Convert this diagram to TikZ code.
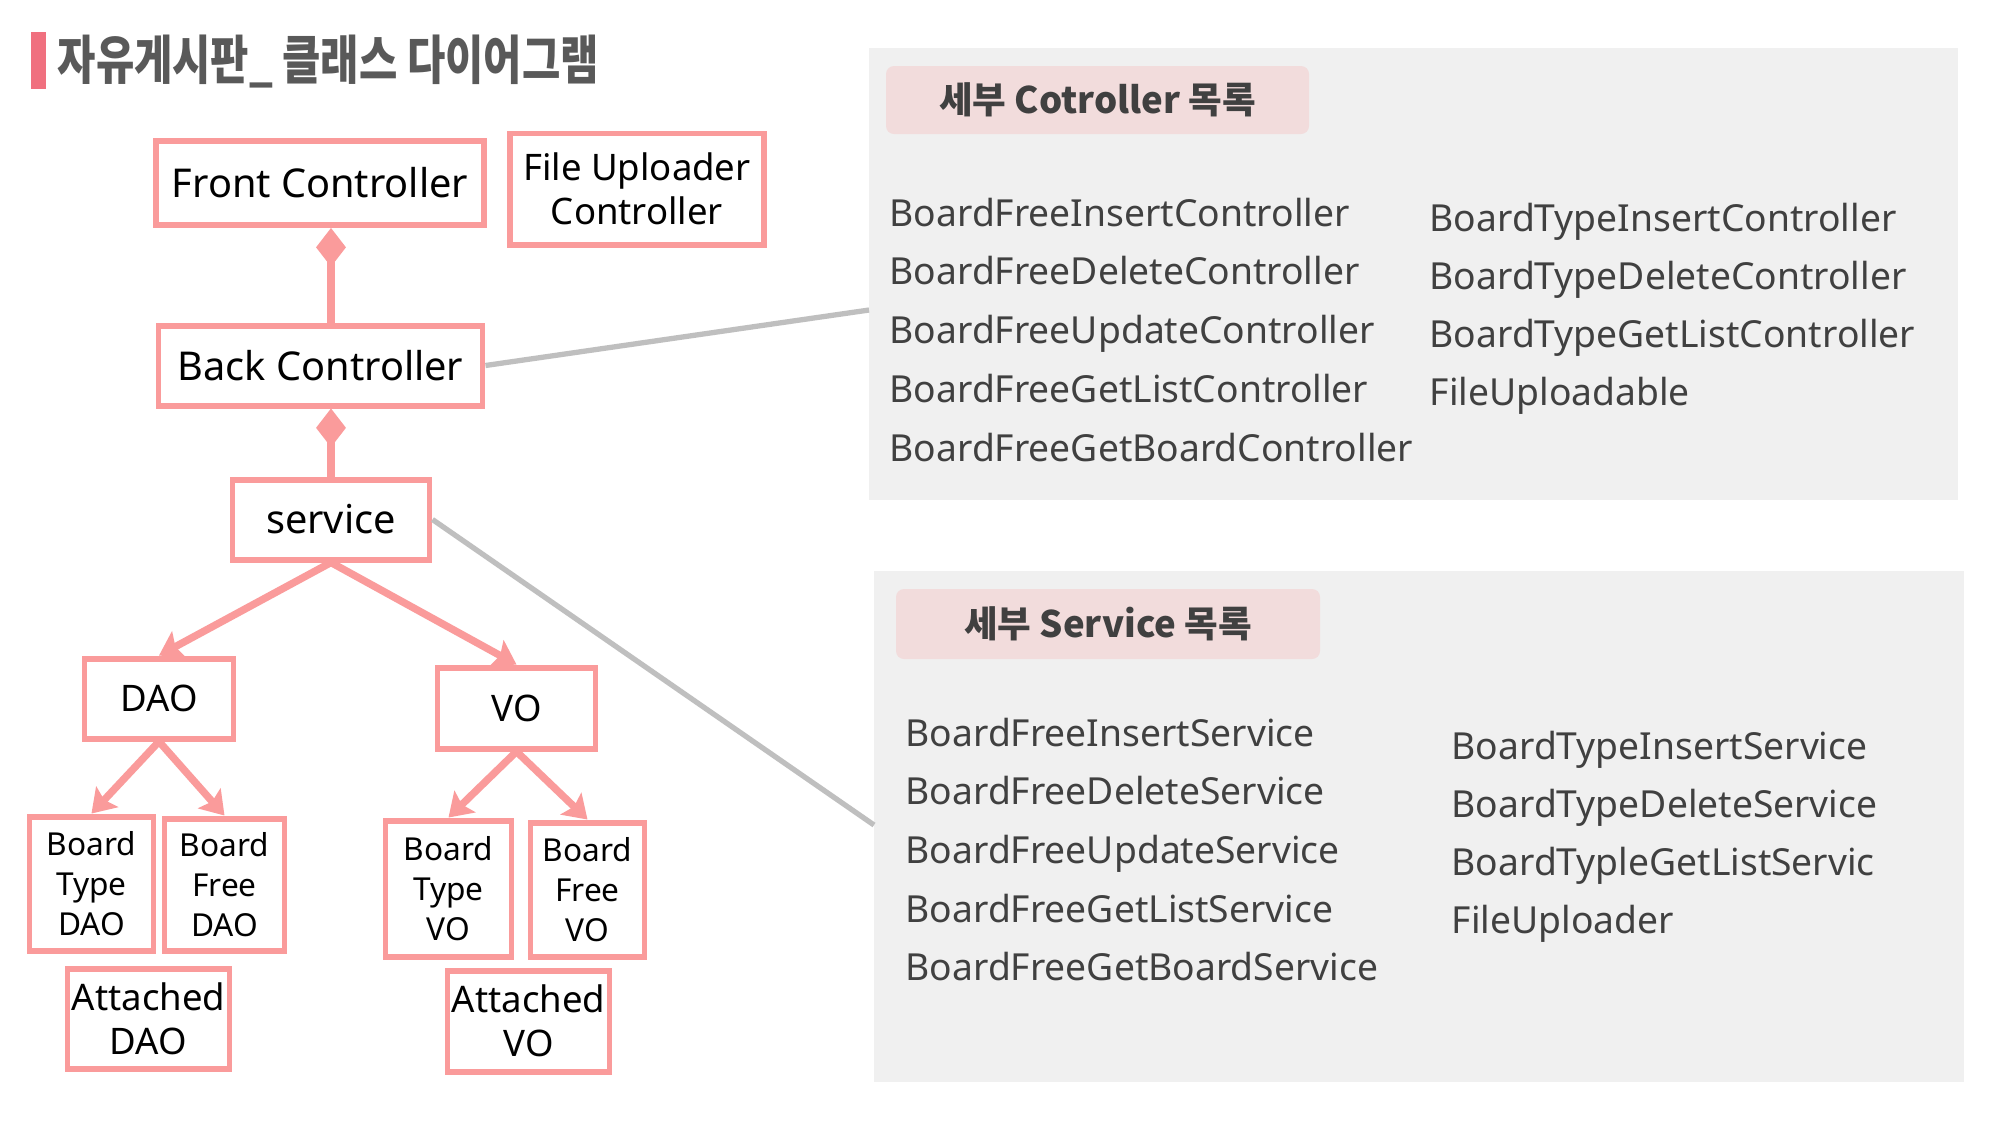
\documentclass[tikz,border=0pt]{standalone}
\usepackage{fontspec}
\setmainfont{Noto Sans}
\newfontfamily\krfont{Noto Sans CJK KR}
\newfontfamily\krtitle[FakeStretch=0.79]{Noto Sans CJK KR}
\usetikzlibrary{arrows.meta,positioning,calc}
\definecolor{boxpink}{HTML}{FA9B9B}
\definecolor{barpink}{HTML}{F0707F}
\definecolor{panelgray}{HTML}{F0F0F0}
\definecolor{headpink}{HTML}{F2DCDC}
\definecolor{linegray}{HTML}{BFBFBF}
\definecolor{txtgray}{HTML}{404040}
\definecolor{titlegray}{HTML}{595959}
\tikzset{
    >={Stealth[]},
    cls/.style={draw=boxpink,line width=1.7pt,fill=white,inner sep=0pt,align=center},
    clsbig/.style={cls,font=\fontsize{11.3}{13}\selectfont},
    clsmid/.style={cls,font=\fontsize{10.4}{12.5}\selectfont},
    clssmall/.style={cls,font=\fontsize{9}{11.4}\selectfont},
    compo/.style={draw=boxpink,line width=2.1pt,-{Diamond[length=11pt,width=8.5pt]}},
    assoc/.style={draw=boxpink,line width=2.1pt,-{Stealth[length=6.5pt,width=8.5pt,inset=1.2pt]}},
    detail/.style={draw=linegray,line width=1.5pt},
    panel/.style={fill=panelgray},
    listhead/.style={fill=headpink,rounded corners=0.8mm,inner sep=0pt,text=txtgray,
        font=\krfont\bfseries\fontsize{10.4}{12}\selectfont},
    item/.style={anchor=base west,inner sep=0pt,text=txtgray,font=\fontsize{10.6}{12}\selectfont}
}
\begin{document}
\begin{tikzpicture}
    \useasboundingbox (0,0) rectangle (20,-11.25);
    \fill[white] (0,0) rectangle (20,-11.25);

    % title
    \fill[barpink] (0.31,-0.32) rectangle (0.46,-0.89);
    \node[anchor=west,inner sep=0pt,text=titlegray,font=\krtitle\bfseries\fontsize{15}{17}\selectfont]
        (title) at (0.57,-0.62) {자유게시판\_ 클래스 다이어그램};

    % class boxes
    \node[clsbig,minimum width=3.28cm,minimum height=0.84cm] (front) at (3.20,-1.83) {Front Controller};
    \node[clsmid,minimum width=2.54cm,minimum height=1.11cm] (upl) at (6.37,-1.89) {File Uploader\\Controller};
    \node[clsbig,minimum width=3.24cm,minimum height=0.80cm] (back) at (3.205,-3.655) {Back Controller};
    \node[clsbig,minimum width=1.97cm,minimum height=0.80cm] (srv) at (3.31,-5.195) {service};
    \node[clsmid,minimum width=1.49cm,minimum height=0.80cm] (dao) at (1.59,-6.985) {DAO};
    \node[clsmid,minimum width=1.58cm,minimum height=0.81cm] (vo) at (5.165,-7.08) {VO};

    \node[clssmall,minimum width=1.24cm,minimum height=1.34cm] (tdao) at (0.915,-8.835) {Board\\Type\\DAO};
    \node[clssmall,minimum width=1.20cm,minimum height=1.32cm] (fdao) at (2.245,-8.845) {Board\\Free\\DAO};
    \node[clsmid,minimum width=1.62cm,minimum height=1.00cm] (adao) at (1.485,-10.185) {Attached\\DAO};
    \node[clssmall,minimum width=1.26cm,minimum height=1.36cm] (tvo) at (4.485,-8.885) {Board\\Type\\VO};
    \node[clssmall,minimum width=1.14cm,minimum height=1.34cm] (fvo) at (5.875,-8.895) {Board\\Free\\VO};
    \node[clsmid,minimum width=1.62cm,minimum height=1.01cm] (avo) at (5.285,-10.21) {Attached\\VO};

    % relations
    \draw[compo] (back.north -| srv) -- (front.south -| srv);
    \draw[compo] (srv.north) -- (back.south -| srv);
    \draw[assoc] (srv.south) -- (dao.north);
    \draw[assoc] (srv.south) -- (vo.north);
    \draw[assoc] (dao.south) -- (tdao.north);
    \draw[assoc] (dao.south) -- (fdao.north);
    \draw[assoc] (vo.south) -- (tvo.north);
    \draw[assoc] (vo.south) -- (fvo.north);

    % controller list
    \fill[panel] (8.69,-0.48) rectangle (19.58,-5.00);
    \coordinate (cend) at (8.69,-3.10);
    \node[listhead,minimum width=4.23cm,minimum height=0.68cm] (chead) at (10.975,-1.0) {세부 Cotroller 목록};
    \foreach \name [count=\i] in {BoardFreeInsertController,BoardFreeDeleteController,
        BoardFreeUpdateController,BoardFreeGetListController,BoardFreeGetBoardController}
        \node[item] (cl\i) at (8.89,{-2.26-0.588*(\i-1)}) {\name};
    \foreach \name [count=\i] in {BoardTypeInsertController,BoardTypeDeleteController,
        BoardTypeGetListController,FileUploadable}
        \node[item] (cr\i) at (14.29,{-2.31-0.583*(\i-1)}) {\name};

    % service list
    \fill[panel] (8.74,-5.71) rectangle (19.64,-10.82);
    \coordinate (send) at (8.74,-8.25);
    \node[listhead,minimum width=4.24cm,minimum height=0.70cm] (shead) at (11.08,-6.24) {세부 Service 목록};
    \foreach \name [count=\i] in {BoardFreeInsertService,BoardFreeDeleteService,
        BoardFreeUpdateService,BoardFreeGetListService,BoardFreeGetBoardService}
        \node[item] (sl\i) at (9.05,{-7.46-0.587*(\i-1)}) {\name};
    \foreach \name [count=\i] in {BoardTypeInsertService,BoardTypeDeleteService,
        BoardTypleGetListServic,FileUploader}
        \node[item] (sr\i) at (14.51,{-7.59-0.58*(\i-1)}) {\name};

    % detail links
    \draw[detail] (back.east) -- (cend);
    \draw[detail] (srv.east) -- (send);
\end{tikzpicture}
\end{document}
